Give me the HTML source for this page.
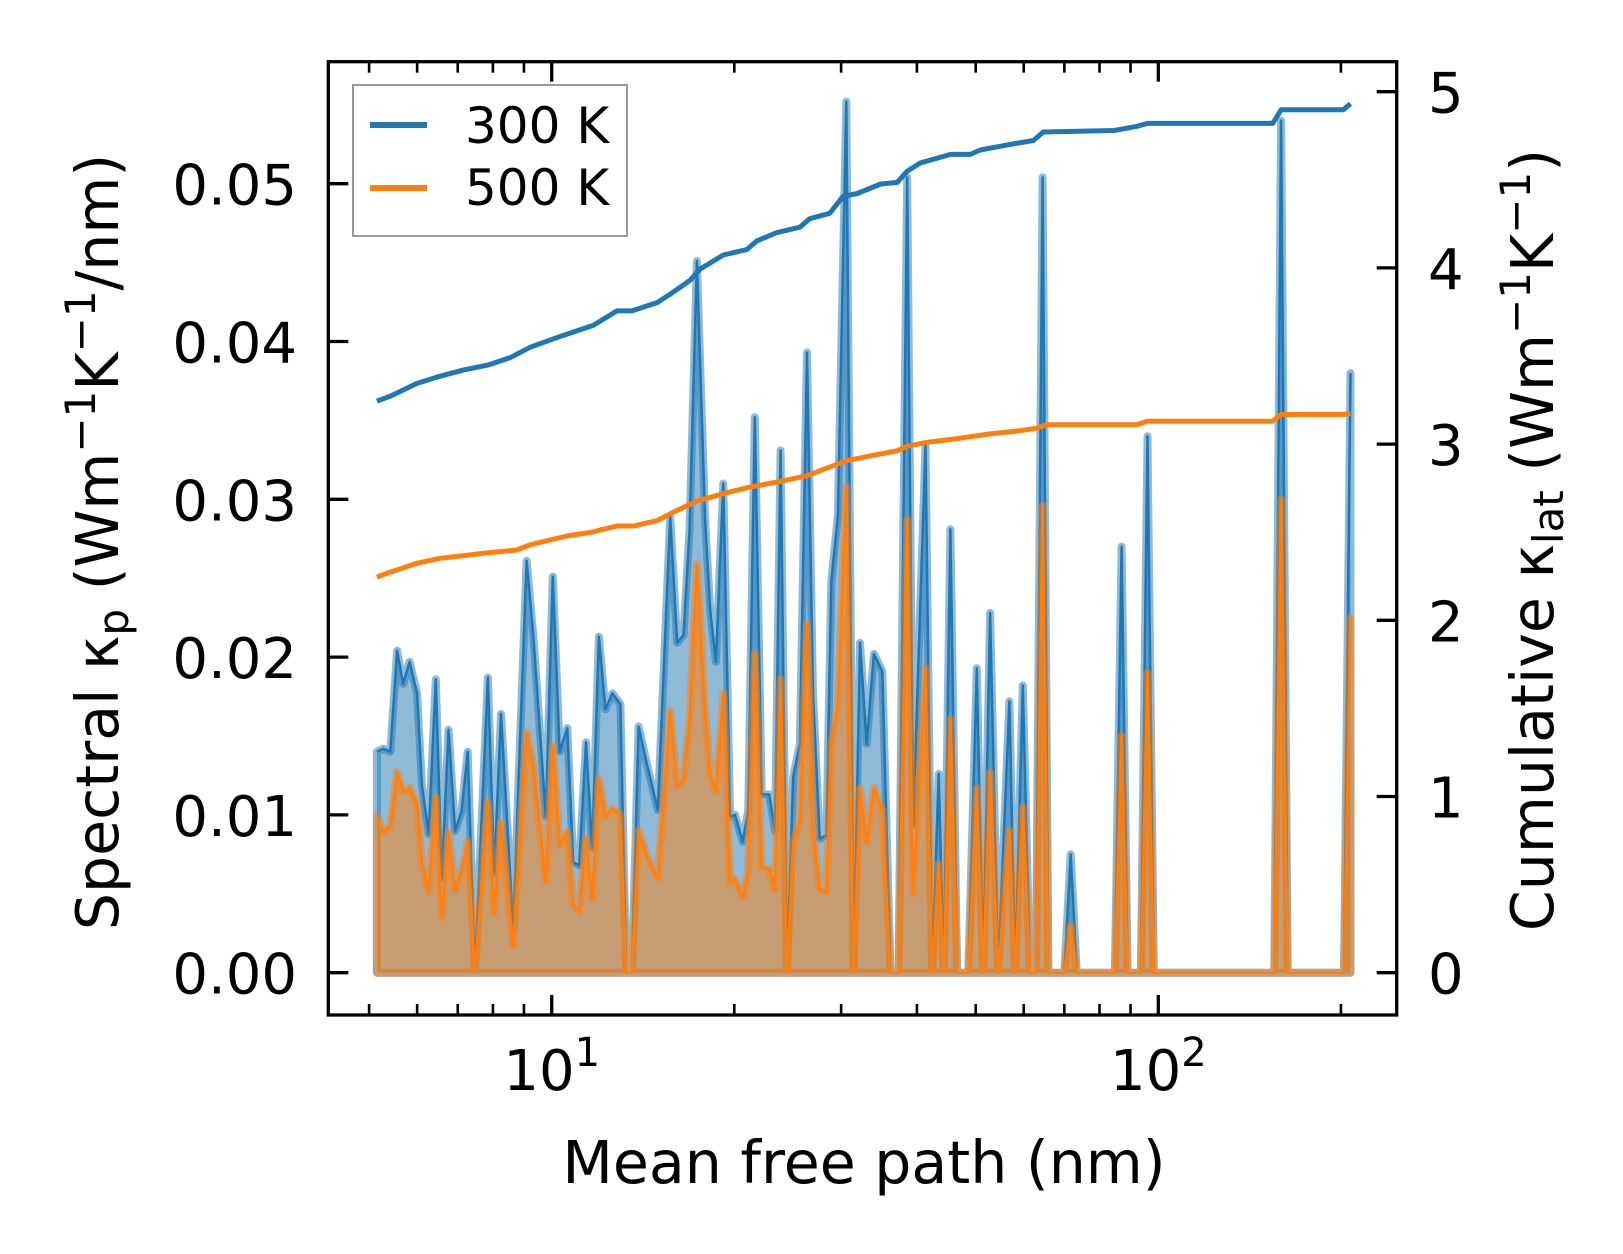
<!DOCTYPE html>
<html>
<head>
<meta charset="utf-8">
<style>
  html, body { margin: 0; padding: 0; background: #ffffff; }
  svg { display: block; }
  text { font-family: "DejaVu Sans", "Liberation Sans", sans-serif; fill: #000; }
</style>
</head>
<body>
<svg id="chart" xmlns="http://www.w3.org/2000/svg" width="1623" height="1254" viewBox="0 0 1623 1254">
  <rect x="0" y="0" width="1623" height="1254" fill="#ffffff"/>
  <g id="plot"></g>
  <g id="axes"></g>
  <text x="864" y="1183" font-size="58.5" text-anchor="middle">Mean free path (nm)</text>
  <text transform="translate(118,542) rotate(-90)" font-size="58.5" text-anchor="middle">Spectral κ<tspan font-size="42" dy="10">p</tspan><tspan dy="-10"> (Wm</tspan><tspan font-size="42" dy="-23">−1</tspan><tspan dy="23">K</tspan><tspan font-size="42" dy="-23">−1</tspan><tspan dy="23">/nm)</tspan></text>
  <text transform="translate(1553,540) rotate(-90)" font-size="58.5" text-anchor="middle">Cumulative κ<tspan font-size="42" dy="10">lat</tspan><tspan dy="-10"> (Wm</tspan><tspan font-size="42" dy="-23">−1</tspan><tspan dy="23">K</tspan><tspan font-size="42" dy="-23">−1</tspan><tspan dy="23">)</tspan></text>
  <g>
    <rect x="353" y="85" width="274" height="151" fill="#ffffff" fill-opacity="0.8" stroke="#9a9a9a" stroke-width="2"/>
    <line x1="370" y1="125" x2="427" y2="125" stroke="#1f77b4" stroke-width="6"/>
    <text x="465" y="143" font-size="50">300 K</text>
    <line x1="370" y1="188" x2="427" y2="188" stroke="#ff7f0e" stroke-width="6"/>
    <text x="465" y="205" font-size="50">500 K</text>
  </g>
</svg>
<script>
// ---- data ----
const mfpSpectral = [5.15,5.28,5.42,5.56,5.69,5.83,6.00,6.11,6.27,6.44,6.59,6.76,6.93,7.10,7.27,7.47,7.85,8.04,8.25,8.64,9.09,9.33,9.78,10.04,
  10.31,10.61,10.85,11.10,11.39,11.66,11.96,12.26,12.59,12.98,13.27,13.56,13.91,14.36,14.96,15.68,16.10,16.49,16.87,17.35,17.90,18.25,18.65,19.18,19.68,20.06,20.65,21.08,21.62,22.19,22.83,23.34,23.84,24.42,25.01,25.65,26.36,26.96,27.66,28.37,28.90,29.64,30.60,
  31.46,32.23,33.06,33.98,35.08,36.18,37.30,38.55,39.43,41.32,42.37,43.45,44.28,45.42,46.59,48.61,50.21,51.42,52.81,54.44,56.82,58.06,59.78,61.45,62.84,64.45,65.89,70.0,71.7,73.4,84.8,87.0,89.0,93.6,96.0,98.3,155.3,159.4,163.4,202.4,207.4];
const spectral300 = [0.0140,0.0142,0.0140,0.0204,0.0183,0.0197,0.0177,0.0119,0.0088,0.0186,0.0060,0.0154,0.0090,0.0102,0.0140,0,0.0187,0.0063,0.0164,0.0028,0.0261,0.0213,0.0099,0.0251,
  0.0140,0.0155,0.0070,0.0068,0.0146,0.0079,0.0213,0.0167,0.0177,0.0170,0,0,0.0156,0.0132,0.0103,0.0289,0.0209,0.0214,0.0280,0.0451,0.0287,0.0230,0.0197,0.0310,0.0099,0.0100,0.0083,0.0103,0.0352,0.0113,0.0113,0.0090,0.0331,0,0.0124,0.0145,0.0393,0.0177,0.0085,0.0087,0.0248,0.0290,0.0552,
  0,0.0209,0.0145,0.0202,0.0191,0,0,0.0504,0.0094,0.0334,0,0.0126,0,0.0281,0,0,0.0193,0,0.0228,0,0.0172,0,0.0182,0,0,0.0504,0,0,0.0075,0,0,0.0270,0,0,0.0340,0,0,0.0540,0,0,0.0380];
const spectral500 = [0.0099,0.0089,0.0093,0.0127,0.0115,0.0117,0.0107,0.0070,0.0051,0.0111,0.0035,0.0089,0.0052,0.0064,0.0083,0,0.0108,0.0038,0.0095,0.0017,0.0152,0.0131,0.0058,0.0144,
  0.0081,0.0089,0.0043,0.0039,0.0085,0.0047,0.0123,0.0099,0.0104,0.0100,0,0,0.0090,0.0074,0.0060,0.0166,0.0118,0.0123,0.0160,0.0259,0.0166,0.0126,0.0115,0.0177,0.0057,0.0059,0.0048,0.0064,0.0202,0.0067,0.0066,0.0053,0.0186,0,0.0083,0.0096,0.0221,0.0092,0.0053,0.0051,0.0145,0.0170,0.0308,
  0,0.0117,0.0083,0.0117,0.0103,0,0,0.0287,0.0050,0.0193,0,0.0069,0,0.0161,0,0,0.0117,0,0.0127,0,0.0090,0,0.0105,0,0,0.0296,0,0,0.0030,0,0,0.0150,0,0,0.0190,0,0,0.0300,0,0,0.0225];

const mfpCum300 = [5.15,5.43,5.99,6.47,7.15,7.88,8.53,9.22,10.41,11.72,12.81,13.56,14.92,15.68,16.92,17.56,19.18,20.96,21.77,23.47,25.65,26.64,28.73,30.21,31.90,34.86,37.12,38.55,40.54,41.57,45.42,49.00,50.88,56.98,62.25,64.62,84.5,92.1,96.0,154.4,159.4,201.8,207.4];
const cum300 = [3.244,3.273,3.344,3.38,3.42,3.45,3.49,3.55,3.615,3.674,3.756,3.756,3.803,3.851,3.930,3.993,4.073,4.104,4.152,4.200,4.231,4.279,4.310,4.406,4.422,4.476,4.485,4.549,4.596,4.606,4.644,4.644,4.669,4.701,4.723,4.771,4.78,4.803,4.82,4.82,4.897,4.897,4.932];
const mfpCum500 = [5.15,5.36,6.00,6.55,7.34,7.72,8.76,9.20,9.93,10.61,11.59,12.81,13.65,14.92,15.88,17.35,19.43,21.22,23.78,26.30,30.60,33.98,37.12,38.55,41.57,45.42,49.00,52.81,58.45,63.05,65.46,92.1,96.0,154.4,159.4,201.8,207.4];
const cum500 = [2.245,2.268,2.324,2.352,2.371,2.381,2.399,2.428,2.456,2.479,2.499,2.535,2.535,2.566,2.614,2.676,2.724,2.756,2.788,2.820,2.905,2.937,2.962,2.988,3.010,3.026,3.042,3.058,3.074,3.090,3.110,3.110,3.130,3.130,3.168,3.168,3.174];

const leftTicks = [0, 0.01, 0.02, 0.03, 0.04, 0.05];
const leftTickLabels = ["0.00","0.01","0.02","0.03","0.04","0.05"];
const rightTicks = [0, 1, 2, 3, 4, 5];
const rightTickLabels = ["0","1","2","3","4","5"];
const xMajorTicks = [10, 100];
const xMajorExp = ["1", "2"];
const xMinorTicks = [5,6,7,8,9,20,30,40,50,60,70,80,90,200];

// ---- axes geometry ----
const L = 328.3, R = 1396.7, T = 61.7, B = 1015;
const X_DEC0 = 551.7, X_DEC = 606.6;
const Y0 = 972.7, YL = 15780, YR = 176.2;
function xs(v) { return X_DEC0 + (Math.log10(v) - 1) * X_DEC; }
function yl(v) { return Y0 - v * YL; }
function yr(v) { return Y0 - v * YR; }

const NS = "http://www.w3.org/2000/svg";
function mk(tag, attrs, parent) {
  const e = document.createElementNS(NS, tag);
  for (const k in attrs) e.setAttribute(k, attrs[k]);
  parent.appendChild(e);
  return e;
}
const plot = document.getElementById("plot");
const axes = document.getElementById("axes");

function drawSpectral(xsArr, ys, color, name) {
  let pts = xs(xsArr[0]).toFixed(1) + "," + yl(0).toFixed(1);
  let line = "";
  for (let i = 0; i < xsArr.length; i++) {
    const p = xs(xsArr[i]).toFixed(1) + "," + yl(ys[i]).toFixed(1);
    pts += " " + p;
    line += (i ? " " : "") + p;
  }
  pts += " " + xs(xsArr[xsArr.length - 1]).toFixed(1) + "," + yl(0).toFixed(1);
  const area = mk("polygon", {points: pts, fill: color, "fill-opacity": 0.5, stroke: color, "stroke-opacity": 0.5, "stroke-width": 8, "stroke-linejoin": "round"}, plot);
  
  
  const pl = mk("polyline", {points: line, fill: "none", stroke: color, "stroke-width": 2.5, "stroke-linejoin": "round"}, plot);
  
  
}
drawSpectral(mfpSpectral, spectral300, "#1f77b4", "spectral-300k");
drawSpectral(mfpSpectral, spectral500, "#ff7f0e", "spectral-500k");

function drawCum(xsArr, ys, color, name) {
  let line = "";
  for (let i = 0; i < xsArr.length; i++) {
    line += (i ? " " : "") + xs(xsArr[i]).toFixed(1) + "," + yr(ys[i]).toFixed(1);
  }
  const pl = mk("polyline", {points: line, fill: "none", stroke: color, "stroke-width": 5, "stroke-linejoin": "round"}, plot);
  
  
}
drawCum(mfpCum300, cum300, "#1f77b4", "cumulative-300k-line");
drawCum(mfpCum500, cum500, "#ff7f0e", "cumulative-500k-line");

// spines
const frame = mk("rect", {x: L, y: T, width: R - L, height: B - T, fill: "none", stroke: "#000", "stroke-width": 3.3}, axes);



// left ticks
leftTicks.forEach((v, i) => {
  const y = yl(v);
  const t = mk("line", {x1: L, x2: L + 20, y1: y, y2: y, stroke: "#000", "stroke-width": 3.3}, axes);
  
  
  const lb = mk("text", {x: 297, y: y + 21, "font-size": 56, "text-anchor": "end"}, axes);
  lb.textContent = leftTickLabels[i];
  
  
});
// right ticks
rightTicks.forEach((v, i) => {
  const y = yr(v);
  const t = mk("line", {x1: R - 20, x2: R, y1: y, y2: y, stroke: "#000", "stroke-width": 3.3}, axes);
  
  
  const lb = mk("text", {x: 1428, y: y + 21, "font-size": 56}, axes);
  lb.textContent = rightTickLabels[i];
  
  
});
// x ticks (bottom + top)
xMajorTicks.forEach((v, i) => {
  const x = xs(v);
  const tb = mk("line", {x1: x, x2: x, y1: B, y2: B - 20, stroke: "#000", "stroke-width": 3.3}, axes);
  
  
  const tt = mk("line", {x1: x, x2: x, y1: T, y2: T + 20, stroke: "#000", "stroke-width": 3.3}, axes);
  
  
  const lb = mk("text", {x: x, y: 1090, "font-size": 56, "text-anchor": "middle"}, axes);
  
  
  const b = document.createElementNS(NS, "tspan");
  b.textContent = "10";
  lb.appendChild(b);
  const s = document.createElementNS(NS, "tspan");
  s.setAttribute("font-size", "40");
  s.setAttribute("dy", "-24");
  s.textContent = xMajorExp[i];
  lb.appendChild(s);
});
xMinorTicks.forEach(v => {
  const x = xs(v);
  const tb = mk("line", {x1: x, x2: x, y1: B, y2: B - 11, stroke: "#000", "stroke-width": 2.6}, axes);
  
  
  const tt = mk("line", {x1: x, x2: x, y1: T, y2: T + 11, stroke: "#000", "stroke-width": 2.6}, axes);
  
  
});
</script>
</body>
</html>
